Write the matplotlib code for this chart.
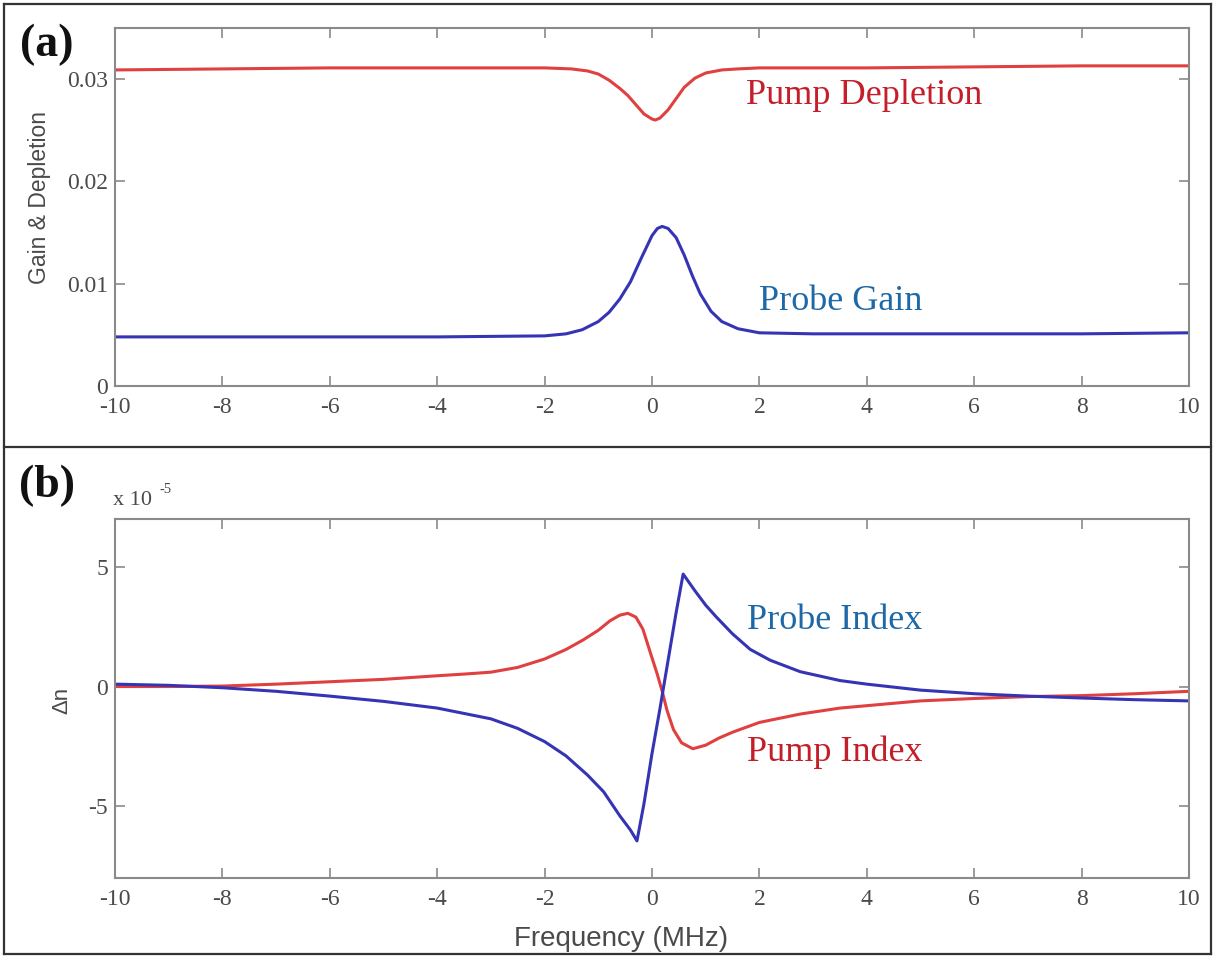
import matplotlib
matplotlib.use("Agg")
import matplotlib.pyplot as plt
from matplotlib.lines import Line2D

# ---------------- data ----------------
# Panel (a): gain & depletion vs frequency (MHz)
pump_dep_x = [-10, -8, -6, -4, -2, -1.5, -1.2, -1.0, -0.8, -0.6, -0.45, -0.3, -0.15, 0, 0.06,
              0.15, 0.3, 0.45, 0.6, 0.8, 1.0, 1.3, 1.6, 2, 4, 6, 8, 10]
pump_dep_y = [0.0309, 0.0310, 0.0311, 0.0311, 0.0311, 0.0310, 0.0308, 0.0305, 0.0299, 0.0291,
              0.0284, 0.0275, 0.0266, 0.0261, 0.0260, 0.0262, 0.0270, 0.0281, 0.0292, 0.0301,
              0.0306, 0.0309, 0.0310, 0.0311, 0.0311, 0.0312, 0.0313, 0.0313]

probe_gain_x = [-10, -8, -6, -4, -2, -1.6, -1.3, -1.0, -0.8, -0.6, -0.4, -0.2, 0, 0.1, 0.19,
                0.3, 0.45, 0.6, 0.75, 0.9, 1.1, 1.3, 1.6, 2, 3, 4, 6, 8, 10]
probe_gain_y = [0.0048, 0.0048, 0.0048, 0.0048, 0.0049, 0.0051, 0.0055, 0.0063, 0.0072, 0.0085,
                0.0102, 0.0125, 0.0147, 0.0154, 0.0156, 0.0154, 0.0145, 0.0128, 0.0108, 0.0090,
                0.0073, 0.0063, 0.0056, 0.0052, 0.0051, 0.0051, 0.0051, 0.0051, 0.0052]

# Panel (b): refractive index change (x 1e-5)
probe_idx_x = [-10, -9, -8, -7, -6, -5, -4, -3, -2.5, -2, -1.6, -1.2, -0.9, -0.6, -0.4, -0.28,
               -0.15, 0, 0.15, 0.3, 0.45, 0.58, 0.8, 1.0, 1.2, 1.5, 1.83, 2.2, 2.76, 3.5, 4,
               5, 6, 7, 8, 9, 10]
probe_idx_y = [0.1, 0.05, -0.05, -0.2, -0.4, -0.62, -0.9, -1.35, -1.75, -2.3, -2.9, -3.7, -4.4,
               -5.4, -6.0, -6.45, -4.9, -2.8, -0.9, 1.1, 3.1, 4.7, 4.0, 3.4, 2.9, 2.2, 1.55, 1.1,
               0.62, 0.25, 0.1, -0.15, -0.3, -0.4, -0.48, -0.55, -0.6]

pump_idx_x = [-10, -9, -8, -7, -6, -5, -4, -3.5, -3, -2.5, -2, -1.6, -1.28, -1.0, -0.78, -0.6,
              -0.45, -0.3, -0.17, 0, 0.1, 0.19, 0.28, 0.4, 0.55, 0.76, 1.0, 1.25, 1.51, 2.0,
              2.76, 3.5, 4, 5, 6, 7, 8, 9, 10]
pump_idx_y = [0.0, 0.0, 0.02, 0.1, 0.2, 0.3, 0.45, 0.52, 0.6, 0.8, 1.15, 1.55, 1.95, 2.35, 2.75,
              2.98, 3.06, 2.9, 2.4, 1.2, 0.5, -0.2, -1.0, -1.8, -2.35, -2.6, -2.45, -2.15, -1.9,
              -1.5, -1.15, -0.9, -0.8, -0.6, -0.5, -0.42, -0.38, -0.3, -0.2]

x_ticks = [-10, -8, -6, -4, -2, 0, 2, 4, 6, 8, 10]
x_ticklabels = ["-10", "-8", "-6", "-4", "-2", "0", "2", "4", "6", "8", "10"]
a_yticks = [0, 0.01, 0.02, 0.03]
a_yticklabels = ["0", "0.01", "0.02", "0.03"]
b_yticks = [-5, 0, 5]
b_yticklabels = ["-5", "0", "5"]

# ---------------- style ----------------
W, H = 1215, 957
fig = plt.figure(figsize=(W / 100, H / 100), dpi=100)

SERIF = "Liberation Serif"
SANS = "Liberation Sans"
RED_LINE = "#e04040"
BLUE_LINE = "#3434b4"
RED_TXT = "#c41e2a"
BLUE_TXT = "#1d68a6"
TICK_C = "#4a4a4a"
SPINE_C = "#8a8a8a"


def fx(px):
    return px / W


def fy(py):
    return 1 - py / H


def style_axes(ax, yticks, yticklabels, ylim):
    ax.set_xlim(-10, 10)
    ax.set_ylim(*ylim)
    ax.set_xticks(x_ticks)
    ax.set_xticklabels(x_ticklabels, fontfamily=SERIF, fontsize=17, color=TICK_C)
    ax.set_yticks(yticks)
    ax.set_yticklabels(yticklabels, fontfamily=SERIF, fontsize=17, color=TICK_C)
    ax.tick_params(direction="in", top=True, right=True, length=7, width=1.2,
                   color=SPINE_C)
    ax.tick_params(axis="x", pad=8)
    ax.tick_params(axis="y", pad=5)
    for s in ax.spines.values():
        s.set_color(SPINE_C)
        s.set_linewidth(1.5)


ax_a = fig.add_axes([fx(115), fy(386), fx(1189) - fx(115), fy(28) - fy(386)])
ax_b = fig.add_axes([fx(115), fy(878), fx(1189) - fx(115), fy(519) - fy(878)])

ax_a.plot(pump_dep_x, pump_dep_y, color=RED_LINE, lw=2.2)
ax_a.plot(probe_gain_x, probe_gain_y, color=BLUE_LINE, lw=2.2)
style_axes(ax_a, a_yticks, a_yticklabels, (0, 0.035))

ax_b.plot(pump_idx_x, pump_idx_y, color=RED_LINE, lw=2.2)
ax_b.plot(probe_idx_x, probe_idx_y, color=BLUE_LINE, lw=2.2)
style_axes(ax_b, b_yticks, b_yticklabels, (-8, 7))

# curve annotations
ax_a.text(1.75, 0.0284, "Pump Depletion", fontfamily=SERIF, fontsize=26, color=RED_TXT,
          va="center", ha="left")
ax_a.text(2.0, 0.0083, "Probe Gain", fontfamily=SERIF, fontsize=26, color=BLUE_TXT,
          va="center", ha="left")
ax_b.text(1.77, 2.75, "Probe Index", fontfamily=SERIF, fontsize=26, color=BLUE_TXT,
          va="center", ha="left")
ax_b.text(1.77, -2.75, "Pump Index", fontfamily=SERIF, fontsize=26, color=RED_TXT,
          va="center", ha="left")

# axis labels
fig.text(fx(40), fy(197), "Gain & Depletion", fontfamily=SANS, fontsize=16.5, color=TICK_C,
         rotation=90, ha="center", va="center")
fig.text(fx(62), fy(700), "Δn", fontfamily=SANS, fontsize=16, color=TICK_C,
         rotation=90, ha="center", va="center")
fig.text(fx(621), fy(939), "Frequency (MHz)", fontfamily=SANS, fontsize=20, color=TICK_C,
         ha="center", va="center")

# exponent
fig.text(fx(113), fy(501), "x 10", fontfamily=SERIF, fontsize=16, color=TICK_C,
         ha="left", va="center")
fig.text(fx(160), fy(490), "-5", fontfamily=SERIF, fontsize=10.5, color=TICK_C,
         ha="left", va="center")

# panel labels
fig.text(fx(47), fy(45), "(a)", fontfamily=SERIF, fontsize=33, fontweight="bold",
         color="#111111", ha="center", va="center")
fig.text(fx(47), fy(486), "(b)", fontfamily=SERIF, fontsize=33, fontweight="bold",
         color="#111111", ha="center", va="center")

# frame and divider
frame_c = "#333333"
for xs, ys in [((4, 1211), (4, 4)), ((4, 1211), (954, 954)), ((4, 4), (4, 954)),
               ((1211, 1211), (4, 954)), ((4, 1211), (447, 447))]:
    fig.add_artist(Line2D([fx(xs[0]), fx(xs[1])], [fy(ys[0]), fy(ys[1])],
                          transform=fig.transFigure, color=frame_c, lw=1.6))

fig.savefig("out.png", dpi=100)
